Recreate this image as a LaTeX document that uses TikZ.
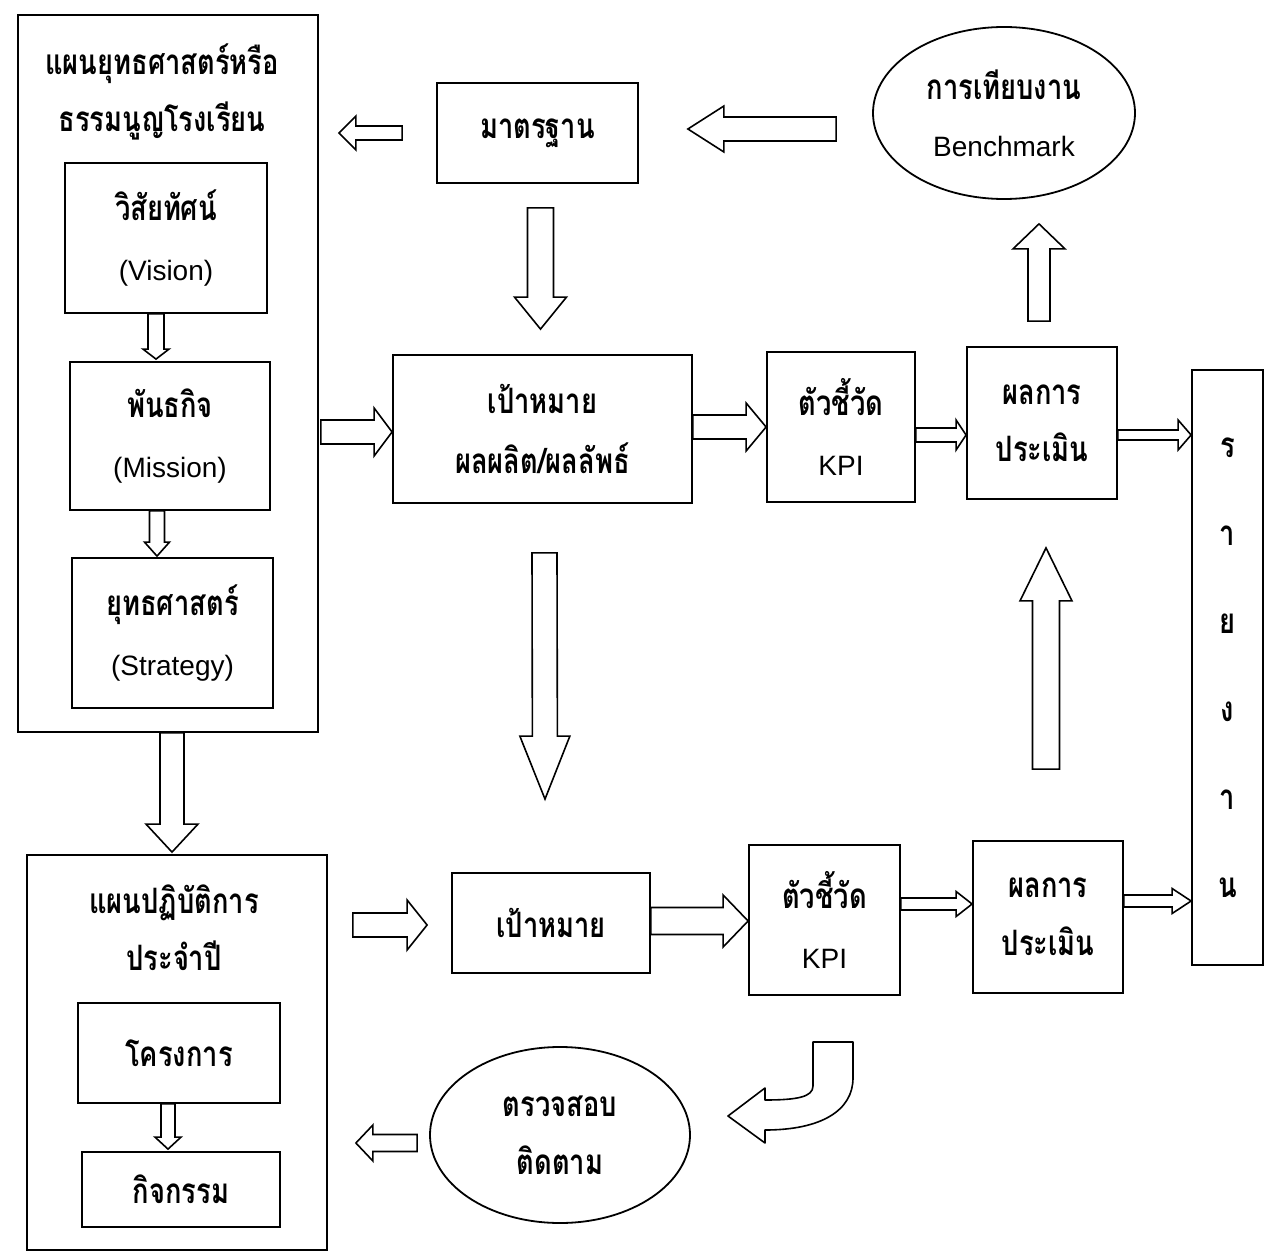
\documentclass[tikz,border=0pt]{standalone}
\usepackage{fontspec}
\setmainfont{Liberation Sans}
\newfontfamily\thaif[Script=Thai, FakeStretch=0.78]{Loma}
\usetikzlibrary{calc,shapes.geometric}
\newcommand\thtxt{\thaif\bfseries\fontsize{35}{60}\selectfont}
\newcommand\entxt{\normalfont\fontsize{28}{60}\selectfont}
\newcommand\barrow[5]{%
  \coordinate (bt) at #1;
  \coordinate (bh) at #2;
  \coordinate (bb) at ($(bh)!#5pt!(bt)$);
  \draw[blockarrow] ($(bt)!#3pt!90:(bh)$) -- ($(bb)!#3pt!90:(bh)$) -- ($(bb)!#4pt!90:(bh)$) -- (bh) -- ($(bb)!#4pt!-90:(bh)$) -- ($(bb)!#3pt!-90:(bh)$) -- ($(bt)!#3pt!-90:(bh)$) -- cycle;}
\begin{document}
\begin{tikzpicture}[x=1pt,y=-1pt,
  box/.style={draw, line width=1.8pt, inner sep=0pt, align=center, font=\thtxt},
  oval/.style={ellipse, draw, line width=1.8pt, inner sep=0pt, align=center, font=\thtxt},
  title/.style={align=center, font=\thtxt, inner sep=0pt},
  blockarrow/.style={draw, line width=1.6pt, fill=white, line join=miter}]
\useasboundingbox[fill=white] (0,0) rectangle (1267,1252);

% left strategic plan
\node[box, minimum width=300pt, minimum height=717pt] (plan) at (168,373.5) {};
\node[title] (plantitle) at (162,92) {แผนยุทธศาสตร์หรือ\\[-3pt]ธรรมนูญโรงเรียน};
\node[box, minimum width=202pt, minimum height=150pt] (vision) at (166,238) {วิสัยทัศน์\\\entxt (Vision)};
\node[box, minimum width=200pt, minimum height=148pt] (mission) at (170,436) {พันธกิจ\\\entxt (Mission)};
\node[box, minimum width=201pt, minimum height=150pt] (strategy) at (172.5,633) {ยุทธศาสตร์\\\entxt (Strategy)};

% top row
\node[box, minimum width=201pt, minimum height=100pt] (std) at (537.5,133) {มาตรฐาน};
\node[oval, minimum width=262pt, minimum height=172pt] (bench) at (1004,113) {การเทียบงาน\\[-3pt]\entxt Benchmark};

% middle row
\node[box, minimum width=299pt, minimum height=148pt] (goal1) at (542.5,429) {เป้าหมาย\\ผลผลิต/ผลลัพธ์};
\node[box, minimum width=148pt, minimum height=150pt] (kpi1) at (841,427) {ตัวชี้วัด\\\entxt KPI};
\node[box, minimum width=150pt, minimum height=152pt] (res1) at (1042,423) {ผลการ\\[-3pt]ประเมิน};
\node[box, minimum width=71pt, minimum height=595pt, font=\thaif\bfseries\fontsize{35}{88}\selectfont] (report) at (1227.5,667.5) {ร\\า\\ย\\ง\\า\\น};

% bottom left annual plan
\node[box, minimum width=300pt, minimum height=395pt] (plan2) at (177,1052.5) {};
\node[title] (plan2title) at (174,928) {แผนปฏิบัติการ\\[-3pt]ประจำปี};
\node[box, minimum width=202pt, minimum height=100pt] (proj) at (179,1053) {โครงการ};
\node[box, minimum width=198pt, minimum height=75pt] (act) at (181,1189.5) {กิจกรรม};

% bottom row
\node[box, minimum width=198pt, minimum height=100pt] (goal2) at (551,923) {เป้าหมาย};
\node[box, minimum width=151pt, minimum height=150pt] (kpi2) at (824.5,920) {ตัวชี้วัด\\\entxt KPI};
\node[box, minimum width=150pt, minimum height=152pt] (res2) at (1048,917) {ผลการ\\[-2pt]ประเมิน};
\node[oval, minimum width=260pt, minimum height=176pt] (check) at (560,1135) {ตรวจสอบ\\[-2pt]ติดตาม};

% block arrows
\barrow{($(vision.south)+(-10,0)$)}{($(mission.north)+(-14,-2)$)}{8}{13}{10}
\barrow{($(mission.south)+(-13,0)$)}{($(strategy.north)+(-15.5,-1)$)}{7.5}{12.5}{14}
\barrow{($(plan.south)+(4,0)$)}{($(plan2.north)+(-5,-2)$)}{12}{26}{28}
\barrow{($(proj.south)+(-11,0)$)}{($(act.north)+(-13,-2)$)}{7}{13}{12}
\barrow{($(std.west)+(-34,0)$)}{($(plan.east |- std.west)+(20,0)$)}{7}{17}{17}
\barrow{($(bench.west)+(-36,16)$)}{($(std.east)+(49,-4)$)}{12}{23}{36}
\barrow{($(std.south)+(3,24)$)}{($(goal1.north)+(-2,-25)$)}{13}{26}{32}
\barrow{($(plan.east |- goal1.west)+(2,3)$)}{($(goal1.west)+(0,3)$)}{12}{24}{18}
\barrow{($(goal1.east |- kpi1.west)$)}{(kpi1.west)}{12}{24}{20}
\barrow{($(kpi1.east)+(0,8)$)}{($(res1.west |- kpi1.east)+(0,8)$)}{7}{15}{10}
\barrow{($(res1.east)+(0,12)$)}{($(report.west |- res1.east)+(0,12)$)}{5}{15}{13}
\barrow{($(res1.north)+(-3,-25)$)}{($(bench.south)+(35,24)$)}{11}{26}{25}
\barrow{($(res2.north)+(-2,-71)$)}{($(res1.south)+(4,48)$)}{13.5}{26}{53}
\barrow{($(goal1.south)+(2,49)$)}{($(goal2.north)+(-6,-73)$)}{12.5}{25}{63}
\barrow{($(plan2.east |- goal2.west)+(25,2)$)}{($(goal2.west)+(-24,2)$)}{12}{25}{20}
\barrow{($(goal2.east)+(0,-2)$)}{($(kpi2.west)+(0,1)$)}{13.5}{26}{25}
\barrow{($(kpi2.east)+(0,-16)$)}{($(res2.west)+(0,-13)$)}{6}{12.5}{16}
\barrow{($(res2.east)+(0,-16)$)}{($(report.west |- res2.east)+(0,-16)$)}{6}{12.5}{19}
\barrow{($(check.west)+(-12,8)$)}{($(plan2.east |- check.west)+(28,8)$)}{8.5}{18}{17}

% curved arrow from KPI towards the follow-up ellipse
\draw[blockarrow, line join=round] (853,1042) -- (813,1042) -- (813,1086)
  .. controls (813,1097) and (797,1100) .. (765,1100) -- (765,1088) -- (728,1116)
  -- (765,1143) -- (765,1130) .. controls (822,1130) and (853,1110) .. (853,1078) -- cycle;
\end{tikzpicture}
\end{document}
